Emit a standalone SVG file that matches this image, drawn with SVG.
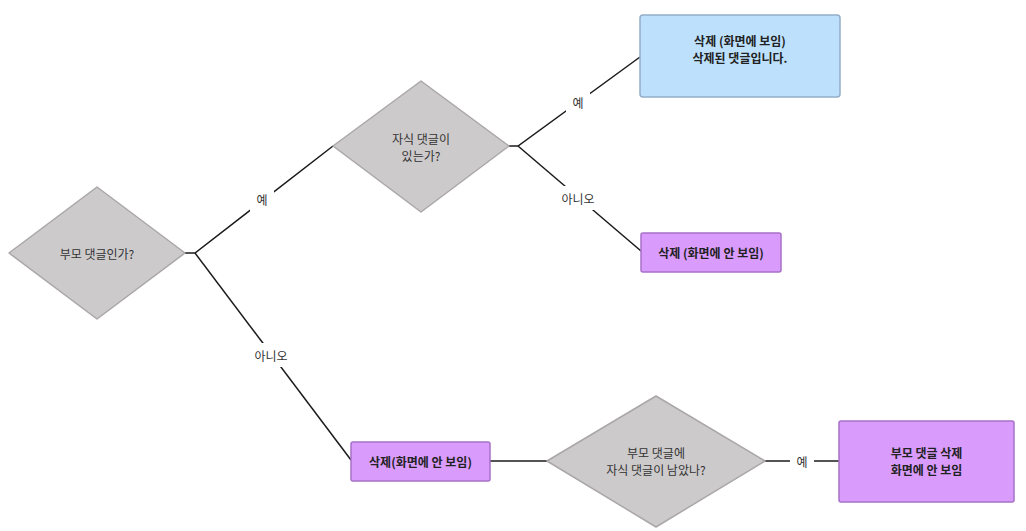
<svg xmlns="http://www.w3.org/2000/svg" width="1026" height="531" viewBox="0 0 1026 531">
<style>
text{font-family:"Noto Sans CJK KR","Noto Sans",sans-serif;font-size:12px;fill:#333;text-anchor:middle;dominant-baseline:central}
.dec{fill:#cdcacb;stroke:#aaa7a9;stroke-width:1.5;stroke-linejoin:round}
.blue{fill:#bde1fd;stroke:#93aec8;stroke-width:1.5}
.purple{fill:#d99cfd;stroke:#a870c8;stroke-width:1.5}
.bt{font-weight:bold;fill:#222}
.edge{fill:none;stroke:#1a1a1a;stroke-width:1.5}
.lbg{fill:#fff}
</style>
<rect width="1026" height="531" fill="#fff"/>
<g id="connectors">
<polyline class="edge" points="185,253 195,253 333,146"/>
<polyline class="edge" points="195,253 351,460"/>
<polyline class="edge" points="509,146 518,146 640,57"/>
<polyline class="edge" points="518,146 641,251"/>
<line class="edge" x1="490" y1="461" x2="547" y2="461"/>
<line class="edge" x1="765" y1="461" x2="839" y2="461"/>
<rect class="lbg" x="250" y="186" width="24" height="26"/>
<text x="262" y="199">예</text>
<rect class="lbg" x="252" y="343" width="38" height="24"/>
<text x="271" y="355">아니오</text>
<rect class="lbg" x="566" y="89" width="24" height="26"/>
<text x="578" y="102">예</text>
<rect class="lbg" x="559" y="186" width="38" height="24"/>
<text x="578" y="198">아니오</text>
<rect class="lbg" x="790" y="451" width="24" height="20"/>
<text x="802" y="461">예</text>
</g>
<g id="q1">
<polygon class="dec" points="9,253 97,187 185,253 97,319"/>
<text x="97" y="253">부모 댓글인가?</text>
</g>
<g id="q2">
<polygon class="dec" points="333,146 421,81 509,146 421,212"/>
<text x="421" y="138">자식 댓글이</text>
<text x="421" y="155">있는가?</text>
</g>
<g id="shown">
<rect class="blue" x="640" y="15" width="200" height="82" rx="3"/>
<text class="bt" x="740" y="40">삭제 (화면에 보임)</text>
<text class="bt" x="740" y="57">삭제된 댓글입니다.</text>
</g>
<g id="hidden1">
<rect class="purple" x="641" y="233" width="140" height="39" rx="2"/>
<text class="bt" x="711" y="252.5">삭제 (화면에 안 보임)</text>
</g>
<g id="hidden2">
<rect class="purple" x="351" y="442" width="139" height="39" rx="2"/>
<text class="bt" x="420.5" y="461.5">삭제(화면에 안 보임)</text>
</g>
<g id="q3">
<polygon class="dec" points="547,461 656,396 765,461 656,527"/>
<text x="656" y="452">부모 댓글에</text>
<text x="656" y="469">자식 댓글이 남았나?</text>
</g>
<g id="parentdel">
<rect class="purple" x="839" y="421" width="175" height="81" rx="2"/>
<text class="bt" x="926.5" y="452">부모 댓글 삭제</text>
<text class="bt" x="926.5" y="469">화면에 안 보임</text>
</g>
</svg>
